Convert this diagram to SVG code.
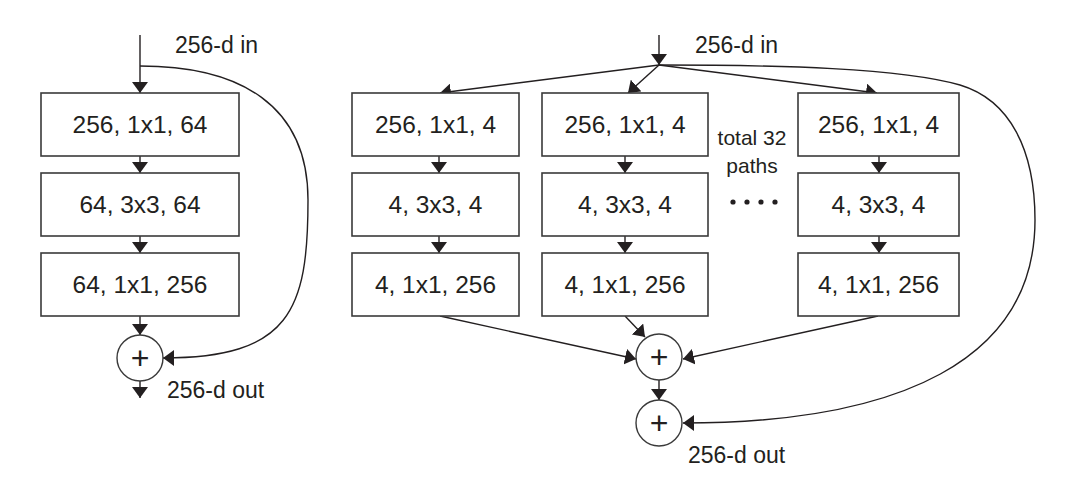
<svg xmlns="http://www.w3.org/2000/svg" width="1080" height="488" viewBox="0 0 1080 488">
<defs>
<marker id="ah" viewBox="0 0 11 16" markerWidth="11" markerHeight="16" refX="11" refY="8" orient="auto" markerUnits="userSpaceOnUse">
<path d="M0,0 L11,8 L0,16 z" fill="#231f20"/>
</marker>
<style>
.box{fill:#fff;stroke:#3a3a3a;stroke-width:1.6}
.op{fill:#fff;stroke:#3a3a3a;stroke-width:1.4}
.t{font-family:"Liberation Sans",Arial,sans-serif;font-size:24.5px;fill:#231f20;text-anchor:middle}
.lbl{font-family:"Liberation Sans",Arial,sans-serif;font-size:23px;fill:#231f20}
.sm{font-family:"Liberation Sans",Arial,sans-serif;font-size:21px;fill:#231f20;text-anchor:middle}
.plus{font-family:"Liberation Sans",Arial,sans-serif;font-size:32px;fill:#231f20;text-anchor:middle}
.c{fill:none;stroke:#231f20;stroke-width:1.4;marker-end:url(#ah)}
</style>
</defs>
<rect width="1080" height="488" fill="#fff"/>

<g id="connectors">
<path class="c" d="M140,35 L140,93"/>
<path class="c" d="M140,156 L140,173"/>
<path class="c" d="M140,236 L140,253"/>
<path class="c" d="M140,316 L140,335"/>
<path class="c" d="M140,381 L140,398"/>
<path class="c" d="M140,66 C240,66 308,105 308,200 C308,310 290,358 163,358"/>
<path class="c" d="M659,35 L659,65"/>
<path class="c" d="M659,65 L440,93"/>
<path class="c" d="M659,65 L628,93"/>
<path class="c" d="M659,65 L877,93"/>
<path class="c" d="M439,156 L439,173"/>
<path class="c" d="M439,236 L439,253"/>
<path class="c" d="M625,156 L625,173"/>
<path class="c" d="M625,236 L625,253"/>
<path class="c" d="M879,156 L879,173"/>
<path class="c" d="M879,236 L879,253"/>
<path class="c" d="M440,316 L636,359"/>
<path class="c" d="M625,316 L645,337"/>
<path class="c" d="M878,316 L683,359"/>
<path class="c" d="M659,380 L659,400"/>
<path class="c" d="M659,65 C780,65 900,68 960,85 C1010,100 1035,150 1035,220 C1035,360 900,423 683,423"/>
</g>

<g id="left-in"><text class="lbl" x="175" y="53">256-d in</text></g>
<g id="left-b1"><rect class="box" x="41" y="93" width="198" height="63"/><text class="t" x="140" y="133">256, 1x1, 64</text></g>
<g id="left-b2"><rect class="box" x="41" y="173" width="198" height="63"/><text class="t" x="140" y="213">64, 3x3, 64</text></g>
<g id="left-b3"><rect class="box" x="41" y="253" width="198" height="63"/><text class="t" x="140" y="293">64, 1x1, 256</text></g>
<g id="left-sum"><circle class="op" cx="140" cy="358" r="23"/><text class="plus" x="140" y="369">+</text></g>
<g id="left-out"><text class="lbl" x="167" y="398">256-d out</text></g>

<g id="right-in"><text class="lbl" x="695" y="53">256-d in</text></g>
<g id="a1"><rect class="box" x="352" y="93" width="167" height="63"/><text class="t" x="435.5" y="133">256, 1x1, 4</text></g>
<g id="a2"><rect class="box" x="352" y="173" width="167" height="63"/><text class="t" x="435.5" y="213">4, 3x3, 4</text></g>
<g id="a3"><rect class="box" x="352" y="253" width="167" height="63"/><text class="t" x="435.5" y="293">4, 1x1, 256</text></g>
<g id="b1"><rect class="box" x="542" y="93" width="166" height="63"/><text class="t" x="625" y="133">256, 1x1, 4</text></g>
<g id="b2"><rect class="box" x="542" y="173" width="166" height="63"/><text class="t" x="625" y="213">4, 3x3, 4</text></g>
<g id="b3"><rect class="box" x="542" y="253" width="166" height="63"/><text class="t" x="625" y="293">4, 1x1, 256</text></g>
<g id="c1"><rect class="box" x="798" y="93" width="161" height="63"/><text class="t" x="878.5" y="133">256, 1x1, 4</text></g>
<g id="c2"><rect class="box" x="798" y="173" width="161" height="63"/><text class="t" x="878.5" y="213">4, 3x3, 4</text></g>
<g id="c3"><rect class="box" x="798" y="253" width="161" height="63"/><text class="t" x="878.5" y="293">4, 1x1, 256</text></g>
<g id="paths-note">
<text class="sm" x="752" y="145">total 32</text>
<text class="sm" x="752" y="173">paths</text>
<g fill="#231f20"><circle cx="733" cy="202" r="2.6"/><circle cx="747" cy="202" r="2.6"/><circle cx="761" cy="202" r="2.6"/><circle cx="775" cy="202" r="2.6"/></g>
</g>
<g id="sum1"><circle class="op" cx="659" cy="357" r="23"/><text class="plus" x="659" y="368">+</text></g>
<g id="sum2"><circle class="op" cx="659" cy="423" r="23"/><text class="plus" x="659" y="434">+</text></g>
<g id="right-out"><text class="lbl" x="688" y="463">256-d out</text></g>
</svg>
